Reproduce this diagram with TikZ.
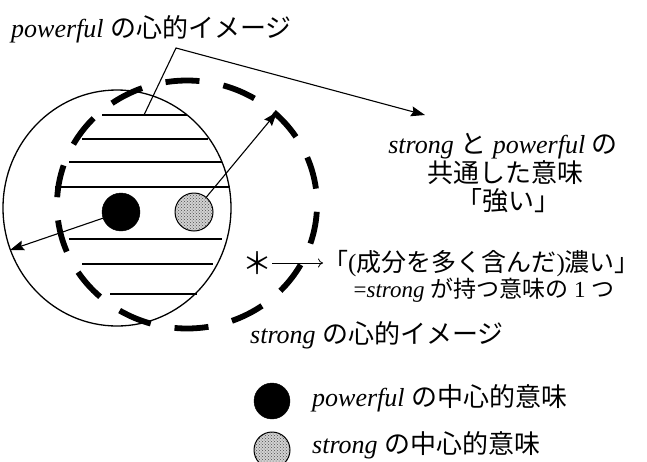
\documentclass[tikz,border=0pt]{standalone}
\usepackage{fontspec}
\setmainfont{Liberation Serif}
\newfontfamily\jp{Noto Sans CJK JP}
\usetikzlibrary{arrows.meta,patterns}
\begin{document}
\begin{tikzpicture}[x=1pt,y=-1pt,
  lbl/.style={inner sep=0pt, font=\fontsize{26}{29}\selectfont},
  midlbl/.style={inner sep=0pt, font=\fontsize{25}{28}\selectfont},
  smlbl/.style={inner sep=0pt, font=\fontsize{23}{26}\selectfont},
  outline/.style={line width=1.3pt},
  hatchline/.style={line width=1.2pt},
  dashstroke/.style={line width=5.8pt},
  arr/.style={line width=1.1pt, -{Stealth[length=14pt,width=10pt,inset=2pt]}},
  thinarr/.style={line width=0.8pt, -{To[length=5pt,width=9pt]}},
  blackdot/.style={circle, fill=black, draw=black, inner sep=0pt, minimum size=38pt},
  graydot/.style={circle, draw=black, line width=1pt, inner sep=0pt, minimum size=38pt,
    preaction={fill=gray!35}, pattern=crosshatch dots, pattern color=black!70}
]
\useasboundingbox (0,0) rectangle (647,461);
\clip (0,0) rectangle (647,461);

% powerful's mental image (solid circle)
\draw[outline] (117,208) ellipse [x radius=114, y radius=118];

% hatching of the overlap
\foreach \yy/\xa/\xb in {115/102/187, 139/82/208, 162/69/222, 187/55/230,
                         239/69/222, 264/82/213, 294/110/197}
  \draw[hatchline] (\xa,\yy) -- (\xb,\yy);

% strong's mental image (thick dashed circle)
\foreach \k in {0,...,13}
  \draw[dashstroke] plot[domain=-7.5:7.5, samples=12, variable=\t]
    ({187+130*cos(92+25.714*\k+\t)}, {204.5-124*sin(92+25.714*\k+\t)});

% central meanings
\node[blackdot] (bdot) at (121,212) {};
\node[graydot] (gdot) at (194,212) {};
\coordinate (ltip) at (10,250);
\coordinate (rtip) at (277,112);
\draw[arr] (bdot) -- (ltip);
\draw[arr] (gdot) -- (rtip);

% pointer to common meaning
\coordinate (p0) at (144,115);
\coordinate (p1) at (176,48);
\coordinate (ctip) at (425,115);
\draw[arr] (p0) -- (p1) -- (ctip);

% labels
\node[lbl, anchor=base west] (tl) at (11,37) {\textit{powerful} {\jp の心的イメージ}};
\node[lbl, anchor=base] (c1) at (503,153) {\textit{strong} {\jp と} \textit{powerful} {\jp の}};
\node[lbl, anchor=base] (c2) at (505,182) {\jp 共通した意味};
\node[lbl, anchor=base] (c3) at (508,210) {\jp 「強い」};

\node[inner sep=0pt, font=\fontsize{30}{32}\selectfont] (ast) at (257,263) {\jp ＊};
\node[midlbl, anchor=base west] (dk) at (323,271) {{\jp 「}({\jp 成分を多く含んだ}){\jp 濃い」}};
\draw[thinarr] (ast.east) -- (ast.east -| dk.west);
\node[smlbl, anchor=base] (dk2) at (484,297) {=\textit{strong} {\jp が持つ意味の} 1 {\jp つ}};

\node[lbl, anchor=base west] (sl) at (250,343) {\textit{strong} {\jp の心的イメージ}};

% legend
\node[blackdot, minimum size=36pt] (lg1) at (272,401) {};
\node[lbl, anchor=base west] (lt1) at (312,406) {\textit{powerful} {\jp の中心的意味}};
\node[graydot, minimum size=36pt] (lg2) at (272,450) {};
\node[lbl, anchor=base west] (lt2) at (312,453) {\textit{strong} {\jp の中心的意味}};
\end{tikzpicture}
\end{document}
